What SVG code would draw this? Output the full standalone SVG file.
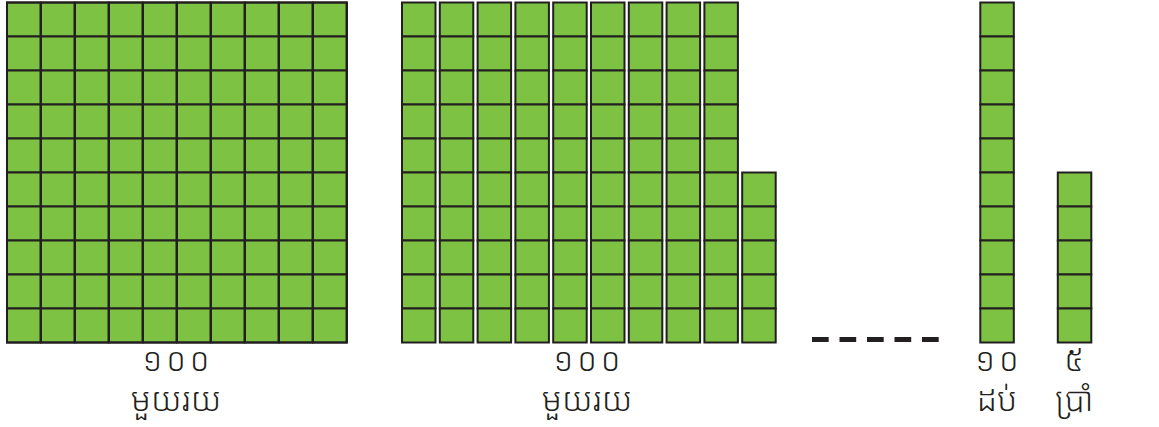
<svg xmlns="http://www.w3.org/2000/svg" xmlns:xlink="http://www.w3.org/1999/xlink" width="1159" height="427" viewBox="0 0 1159 427">
<style>
.c{fill:#7dc242;stroke:#231f20;stroke-width:2}
.t{font-family:"Noto Sans Khmer","Noto Serif Khmer","Khmer OS","Noto Sans","DejaVu Sans",sans-serif;fill:#231f20;text-anchor:middle}
.n{font-size:32px;font-weight:300;letter-spacing:4px}
.w{font-size:33px;font-weight:300}
.d{stroke:#231f20;stroke-width:5;stroke-dasharray:16.7 10.8}
</style>
<defs>
<g id="col10">
<rect class="c" x="0" y="0" width="33.5" height="34"/>
<rect class="c" x="0" y="34" width="33.5" height="34"/>
<rect class="c" x="0" y="68" width="33.5" height="34"/>
<rect class="c" x="0" y="102" width="33.5" height="34"/>
<rect class="c" x="0" y="136" width="33.5" height="34"/>
<rect class="c" x="0" y="170" width="33.5" height="34"/>
<rect class="c" x="0" y="204" width="33.5" height="34"/>
<rect class="c" x="0" y="238" width="33.5" height="34"/>
<rect class="c" x="0" y="272" width="33.5" height="34"/>
<rect class="c" x="0" y="306" width="33.5" height="34"/>
</g>
<g id="col5">
<rect class="c" x="0" y="0" width="33.5" height="34"/>
<rect class="c" x="0" y="34" width="33.5" height="34"/>
<rect class="c" x="0" y="68" width="33.5" height="34"/>
<rect class="c" x="0" y="102" width="33.5" height="34"/>
<rect class="c" x="0" y="136" width="33.5" height="34"/>
</g>
</defs>
<g id="hundred-square">
<use xlink:href="#col10" x="7" y="2.5"/>
<use xlink:href="#col10" x="41" y="2.5"/>
<use xlink:href="#col10" x="75" y="2.5"/>
<use xlink:href="#col10" x="109" y="2.5"/>
<use xlink:href="#col10" x="143" y="2.5"/>
<use xlink:href="#col10" x="177" y="2.5"/>
<use xlink:href="#col10" x="211" y="2.5"/>
<use xlink:href="#col10" x="245" y="2.5"/>
<use xlink:href="#col10" x="279" y="2.5"/>
<use xlink:href="#col10" x="313" y="2.5"/>
<rect x="7" y="2.5" width="340" height="340" fill="none" stroke="#231f20" stroke-width="2"/>
</g>
<g id="hundred-columns">
<use xlink:href="#col10" x="402" y="2.5"/>
<use xlink:href="#col10" x="439.8" y="2.5"/>
<use xlink:href="#col10" x="477.6" y="2.5"/>
<use xlink:href="#col10" x="515.4" y="2.5"/>
<use xlink:href="#col10" x="553.2" y="2.5"/>
<use xlink:href="#col10" x="591" y="2.5"/>
<use xlink:href="#col10" x="628.8" y="2.5"/>
<use xlink:href="#col10" x="666.6" y="2.5"/>
<use xlink:href="#col10" x="704.4" y="2.5"/>
<use xlink:href="#col5" x="742.2" y="172.5"/>
</g>
<g id="ellipsis">
<line class="d" x1="812" y1="339.5" x2="940" y2="339.5"/>
</g>
<g id="ten-column">
<use xlink:href="#col10" x="980.3" y="2.5"/>
</g>
<g id="five-column">
<use xlink:href="#col5" x="1057.8" y="172.5"/>
</g>
<g id="labels">
<text class="t n" x="178" y="371">១០០</text>
<text class="t w" x="176" y="411">មួយរយ</text>
<text class="t n" x="589" y="371">១០០</text>
<text class="t w" x="587" y="411">មួយរយ</text>
<text class="t n" x="999" y="371">១០</text>
<text class="t w" x="997" y="411">ដប់</text>
<text class="t n" x="1076" y="371">៥</text>
<text class="t w" x="1074" y="411">ប្រាំ</text>
</g>
</svg>
